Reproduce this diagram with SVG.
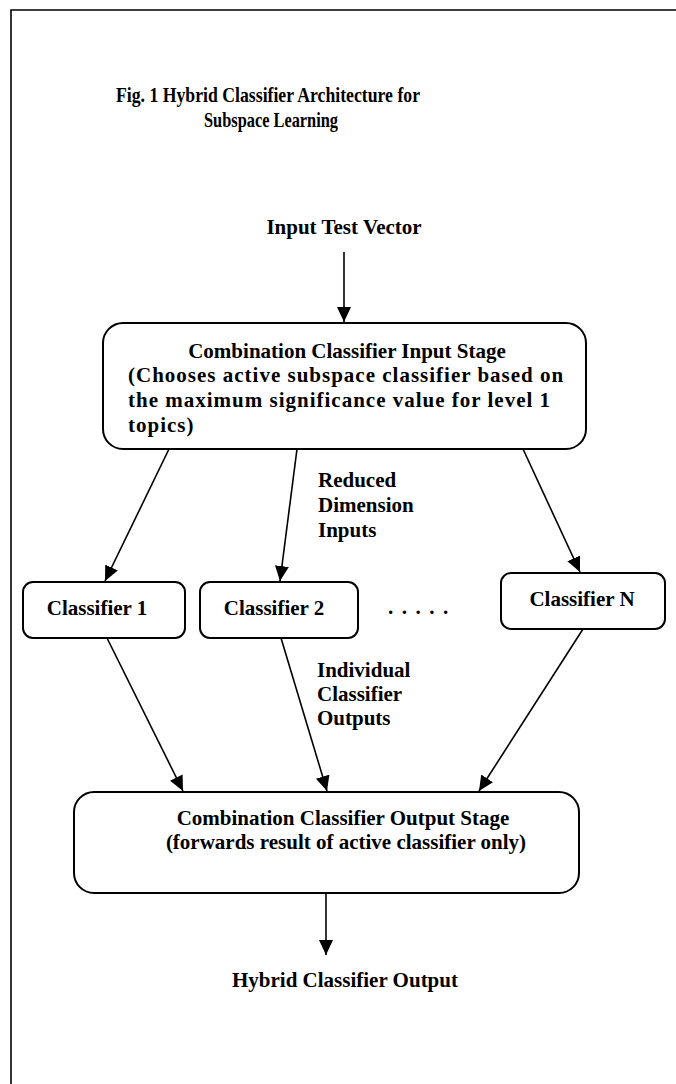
<svg xmlns="http://www.w3.org/2000/svg" width="676" height="1084" viewBox="0 0 676 1084">
<style>
text{font-family:"Liberation Serif","Times New Roman",serif;font-weight:bold;font-size:21px;fill:#000}
.c{text-anchor:middle}
.t{font-size:22px}
.w{letter-spacing:1px}
.box{fill:#fff;stroke:#000;stroke-width:2}
.ln{stroke:#000;stroke-width:1.6;fill:none;marker-end:url(#ah)}
</style>
<defs>
<marker id="ah" markerUnits="userSpaceOnUse" markerWidth="15" markerHeight="16" viewBox="0 0 15 16" refX="15" refY="8" orient="auto">
<path d="M0,1 L15,8 L0,15 Z" fill="#000"/>
</marker>
</defs>
<rect width="676" height="1084" fill="#fff"/>
<path d="M11,1084 V10 H676" fill="none" stroke="#000" stroke-width="1.6"/>
<g id="title">
<text class="t" x="116" y="102" textLength="304" lengthAdjust="spacingAndGlyphs">Fig. 1  Hybrid Classifier Architecture for</text>
<text class="t" x="204" y="127" textLength="134" lengthAdjust="spacingAndGlyphs">Subspace Learning</text>
</g>
<g id="input-label"><text class="c" x="344" y="234">Input Test Vector</text></g>
<g id="input-stage">
<rect class="box" x="103" y="323" width="483" height="126" rx="20"/>
<text class="c" x="347" y="358">Combination Classifier Input Stage</text>
<text class="w" x="128" y="382">(Chooses active subspace classifier based on</text>
<text class="w" x="128" y="407">the maximum significance value for level 1</text>
<text class="w" x="128" y="432">topics)</text>
</g>
<g id="classifier-1">
<rect class="box" x="23" y="582" width="162" height="56" rx="10"/>
<text class="c" x="97" y="615">Classifier 1</text>
</g>
<g id="classifier-2">
<rect class="box" x="200" y="582" width="158" height="56" rx="10"/>
<text class="c" x="274" y="615">Classifier 2</text>
</g>
<g id="ellipsis"><text x="388" y="614" style="letter-spacing:8.5px">.....</text></g>
<g id="classifier-n">
<rect class="box" x="501" y="573" width="164" height="56" rx="10"/>
<text class="c" x="582" y="606">Classifier N</text>
</g>
<g id="output-stage">
<rect class="box" x="74" y="792" width="505" height="101" rx="20"/>
<text class="c" x="343" y="825">Combination Classifier Output Stage</text>
<text class="c" x="346" y="849">(forwards result of active classifier only)</text>
</g>
<g id="output-label"><text class="c" x="345" y="987">Hybrid Classifier Output</text></g>
<g id="labels">
<text x="318" y="487">Reduced</text>
<text x="318" y="512">Dimension</text>
<text x="318" y="537">Inputs</text>
<text x="317" y="677">Individual</text>
<text x="317" y="701">Classifier</text>
<text x="317" y="725">Outputs</text>
</g>
<g id="connectors">
<line class="ln" x1="344" y1="252" x2="344" y2="322"/>
<line class="ln" x1="169" y1="449" x2="105" y2="581"/>
<line class="ln" x1="297" y1="449" x2="280" y2="581"/>
<line class="ln" x1="523" y1="449" x2="580" y2="572"/>
<line class="ln" x1="107" y1="638" x2="183" y2="791"/>
<line class="ln" x1="281" y1="638" x2="327" y2="791"/>
<line class="ln" x1="583" y1="629" x2="479" y2="791"/>
<line class="ln" x1="326" y1="893" x2="326" y2="955"/>
</g>
</svg>
